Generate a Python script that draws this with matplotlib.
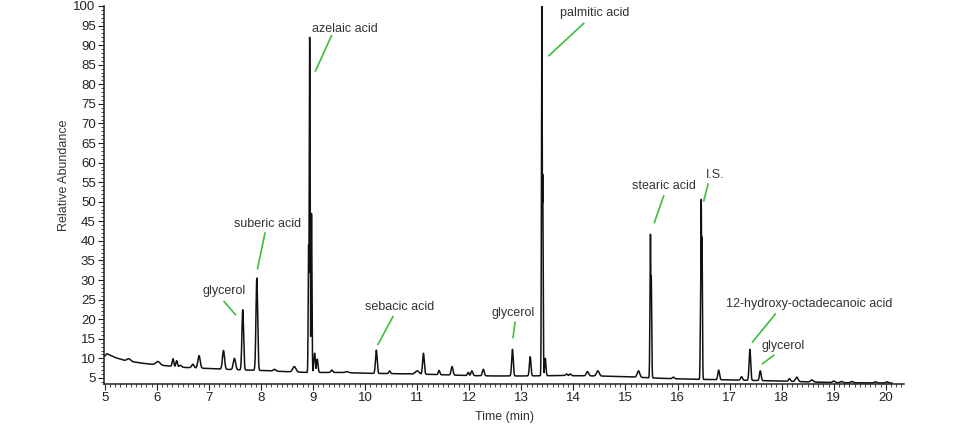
import numpy as np
import matplotlib
matplotlib.use("Agg")
import matplotlib.pyplot as plt
from matplotlib.ticker import MultipleLocator

plt.rcParams['font.family'] = ['Liberation Sans', 'DejaVu Sans']

# Baseline knots (time in min, relative abundance)
base_t = [5.0, 5.04, 5.2, 5.4, 5.7, 6.0, 6.2, 6.5, 7.0, 7.5, 8.0, 8.5, 8.9, 9.5, 10.0, 10.5,
          11.0, 11.5, 12.0, 12.5, 13.0, 13.7, 14.5, 15.0, 15.7, 16.2, 17.0, 18.0, 19.0, 20.12]
base_v = [10.6, 11.2, 10.2, 9.4, 8.8, 8.3, 8.1, 7.7, 7.4, 7.1, 6.9, 6.6, 6.4, 6.4, 6.2, 6.1,
          6.0, 5.8, 5.6, 5.5, 5.5, 5.6, 5.5, 5.3, 4.9, 4.7, 4.5, 4.2, 3.8, 3.7]

# Peaks: retention time, apex height (absolute), width (sigma, min)
peak_t = [5.46, 6.02, 6.31, 6.38, 6.45, 6.69, 6.81, 7.28, 7.49, 7.65, 7.92, 8.26, 8.64,
          8.915, 8.935, 8.97, 9.03, 9.08, 9.36, 9.65, 10.215, 10.47, 11.0, 11.12, 11.42, 11.67,
          11.98, 12.05, 12.27, 12.83, 13.17, 13.395, 13.41, 13.46, 13.87, 13.94, 14.27, 14.47,
          15.25, 15.48, 15.495, 15.92, 16.445, 16.455, 16.47, 16.79, 17.23, 17.39, 17.59,
          18.15, 18.29, 18.58, 19.0, 19.15, 19.35, 19.8, 20.02]
peak_h = [9.9, 9.2, 9.9, 9.4, 8.2, 8.5, 10.7, 12.0, 10.0, 22.4, 30.5, 7.2, 7.9,
          39.0, 92.0, 47.0, 11.3, 9.8, 7.0, 6.6, 12.1, 6.8, 6.8, 11.3, 6.9, 7.9,
          6.4, 6.8, 7.2, 12.3, 10.4, 100.0, 57.0, 10.0, 6.0, 6.0, 6.6, 6.8,
          6.8, 41.7, 31.0, 5.2, 26.0, 50.6, 41.0, 7.0, 5.3, 12.3, 6.8,
          4.8, 5.2, 4.5, 4.2, 4.1, 4.1, 4.0, 4.0]
peak_w = [0.035, 0.04, 0.015, 0.015, 0.025, 0.022, 0.022, 0.02, 0.022, 0.016, 0.016, 0.025, 0.03,
          0.008, 0.009, 0.009, 0.015, 0.015, 0.018, 0.03, 0.016, 0.015, 0.035, 0.016, 0.015, 0.018,
          0.015, 0.018, 0.018, 0.015, 0.015, 0.008, 0.009, 0.013, 0.018, 0.018, 0.022, 0.025,
          0.025, 0.009, 0.009, 0.018, 0.008, 0.008, 0.008, 0.016, 0.018, 0.015, 0.016,
          0.018, 0.024, 0.024, 0.022, 0.022, 0.022, 0.022, 0.022]

# Annotations: label, text position (t, v), leader line start and end (t, v)
labels = ["glycerol", "suberic acid", "azelaic acid", "sebacic acid", "glycerol",
          "palmitic acid", "stearic acid", "I.S.", "12-hydroxy-octadecanoic acid", "glycerol"]
label_t = [7.30, 8.13, 9.62, 10.67, 12.84, 14.41, 15.74, 16.72, 18.52, 18.02]
label_v = [27.3, 44.3, 94.0, 23.2, 21.7, 98.1, 54.0, 56.8, 23.9, 13.2]
line_t0 = [7.28, 8.08, 9.36, 10.54, 12.88, 14.21, 15.74, 16.59, 17.89, 17.86]
line_v0 = [24.7, 42.2, 92.6, 20.8, 19.4, 95.7, 51.7, 54.7, 21.5, 10.9]
line_t1 = [7.52, 7.93, 9.04, 10.24, 12.84, 13.52, 15.55, 16.50, 17.43, 17.62]
line_v1 = [21.0, 32.7, 83.2, 13.4, 15.1, 87.2, 44.5, 50.0, 14.0, 8.5]

# Build trace
t = np.arange(5.0, 20.12, 0.001)
base = np.interp(t, base_t, base_v)
sig = base.copy()
for pt, ph, pw in zip(peak_t, peak_h, peak_w):
    b = np.interp(pt, base_t, base_v)
    sig = np.maximum(sig, base + (ph - b) * np.exp(-0.5 * ((t - pt) / pw) ** 2))

fig = plt.figure(figsize=(9.6, 4.28), dpi=100)
ax = fig.add_axes([104 / 960, 1 - 384 / 428, 800 / 960, 378 / 428])
ax.plot(t, sig, color='#111111', lw=1.1)

ax.set_xlim(4.985, 20.35)
ax.set_ylim(3.45, 100)
ax.xaxis.set_major_locator(MultipleLocator(1))
ax.xaxis.set_minor_locator(MultipleLocator(0.1))
ax.yaxis.set_major_locator(MultipleLocator(5))
ax.yaxis.set_minor_locator(MultipleLocator(1))
ax.set_yticks(np.arange(5, 101, 5))
ax.tick_params(axis='both', which='major', direction='out', length=4, width=0.8,
               labelsize=9.5, colors='#222222', pad=2)
ax.tick_params(axis='both', which='minor', direction='out', length=2.5, width=0.6, colors='#222222')
for s in ['top', 'right']:
    ax.spines[s].set_visible(False)
for s in ['left', 'bottom']:
    ax.spines[s].set_linewidth(1.1)
    ax.spines[s].set_color('#222222')

ax.set_ylabel("Relative Abundance", fontsize=9, color='#333333')
ax.yaxis.set_label_coords(-0.042, 0.553)
ax.set_xlabel("Time (min)", fontsize=9, color='#333333')
ax.xaxis.set_label_coords(0.501, -0.072)

for lab, tx, ty, x0, y0, x1, y1 in zip(labels, label_t, label_v, line_t0, line_v0, line_t1, line_v1):
    ax.text(tx, ty, lab, fontsize=9, color='#333333', ha='center', va='center')
    ax.plot([x0, x1], [y0, y1], color='#3cbf3c', lw=1.2, solid_capstyle='butt')

fig.savefig("out.png", dpi=100, facecolor='white')
